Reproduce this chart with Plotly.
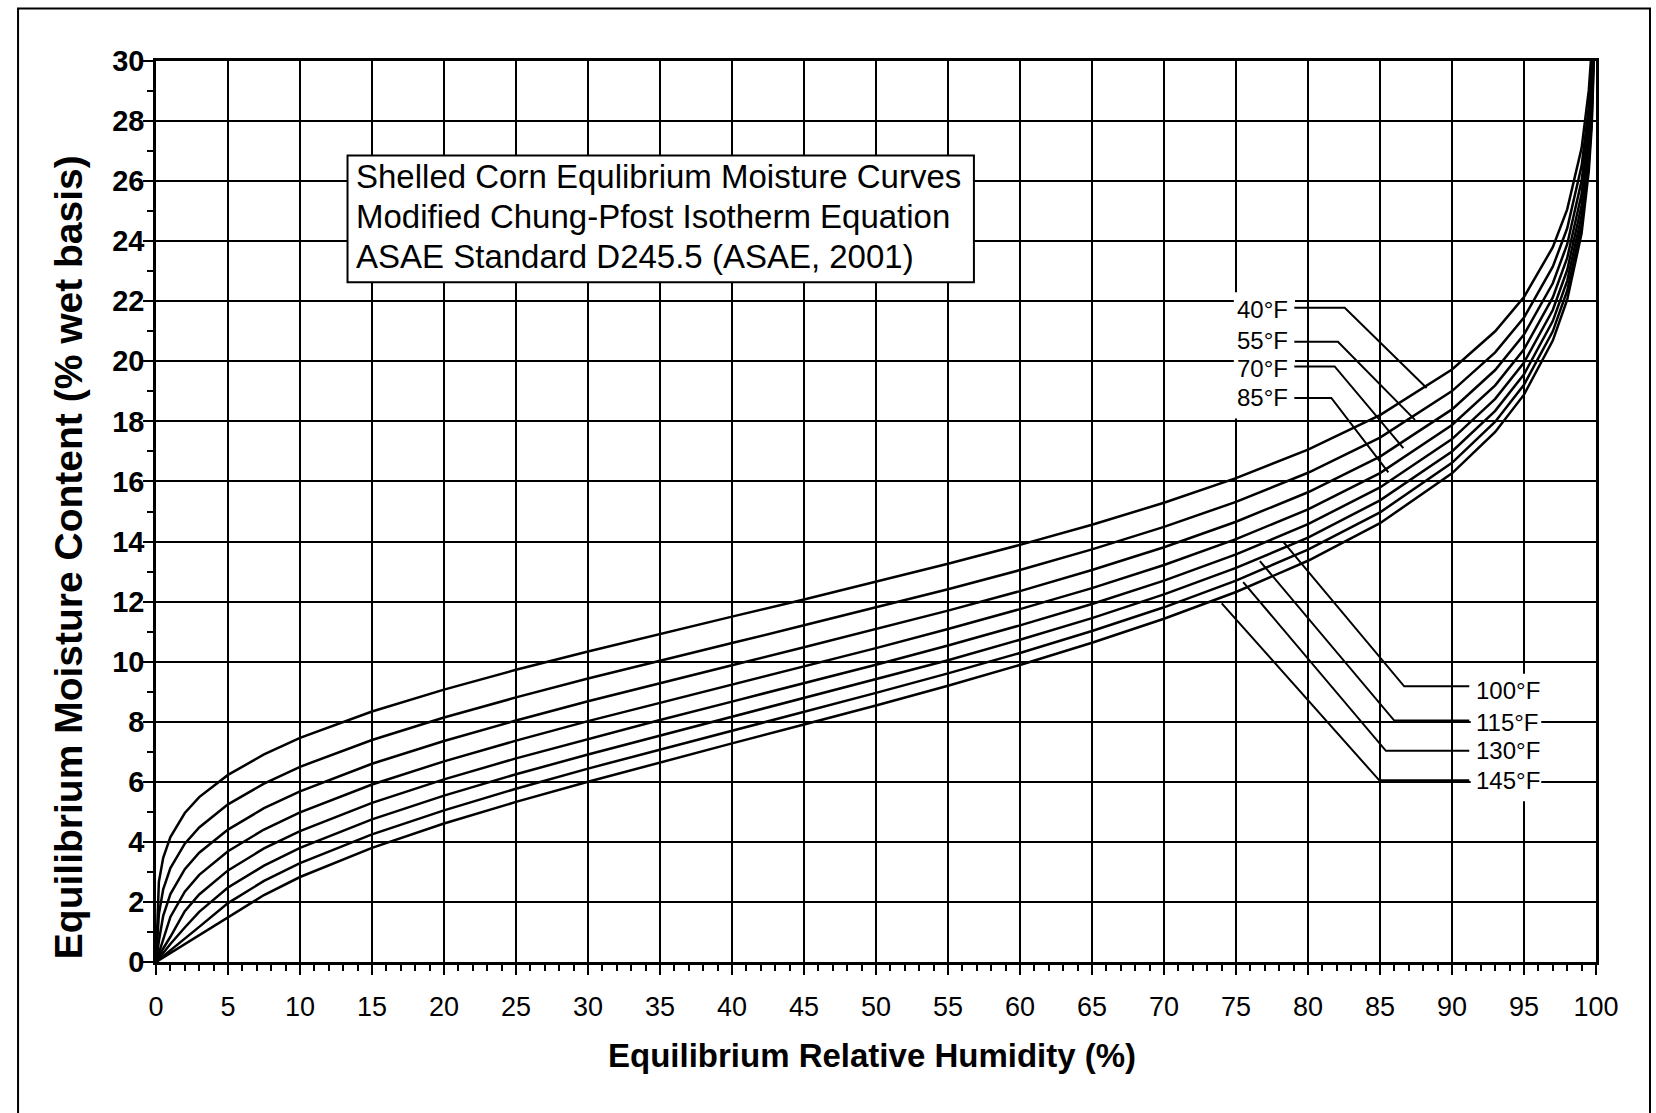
import plotly.graph_objects as go

# ---------------- data ----------------
RH = [0, 0.2, 0.5, 1, 2, 3, 5, 7.5, 10, 15, 20, 25, 30, 35, 40, 45, 50, 55, 60,
      65, 70, 75, 80, 85, 90, 93, 95, 97, 98, 99, 99.5, 99.7, 99.9]

MC_40F = [0, 2.67, 3.47, 4.16, 4.96, 5.49, 6.23, 6.91, 7.46, 8.34, 9.07, 9.73, 10.34,
          10.93, 11.50, 12.07, 12.66, 13.26, 13.89, 14.56, 15.29, 16.11, 17.06, 18.21,
          19.73, 21.00, 22.14, 23.80, 25.06, 27.10, 29.03, 30.39, 33.13]
MC_55F = [0, 1.60, 2.42, 3.13, 3.94, 4.48, 5.25, 5.94, 6.50, 7.39, 8.14, 8.81, 9.44,
          10.04, 10.62, 11.21, 11.80, 12.41, 13.05, 13.74, 14.49, 15.32, 16.29, 17.46,
          19.01, 20.30, 21.46, 23.15, 24.43, 26.51, 28.47, 29.84, 32.63]
MC_70F = [0, 0.70, 1.54, 2.26, 3.09, 3.64, 4.41, 5.12, 5.68, 6.60, 7.36, 8.04, 8.68,
          9.29, 9.88, 10.48, 11.08, 11.70, 12.35, 13.05, 13.81, 14.66, 15.64, 16.83,
          18.40, 19.71, 20.89, 22.60, 23.90, 26.01, 27.99, 29.39, 32.21]
MC_85F = [0, 0.30, 0.77, 1.50, 2.34, 2.90, 3.69, 4.41, 4.98, 5.91, 6.68, 7.37, 8.02,
          8.63, 9.24, 9.84, 10.45, 11.09, 11.75, 12.45, 13.22, 14.08, 15.07, 16.28,
          17.88, 19.20, 20.40, 22.13, 23.44, 25.57, 27.58, 28.99, 31.84]
MC_100F = [0, 0.18, 0.45, 0.84, 1.69, 2.25, 3.05, 3.78, 4.36, 5.30, 6.08, 6.78, 7.43,
           8.06, 8.67, 9.28, 9.90, 10.54, 11.21, 11.92, 12.70, 13.57, 14.58, 15.80,
           17.41, 18.75, 19.96, 21.71, 23.04, 25.19, 27.22, 28.65, 31.53]
MC_115F = [0, 0.12, 0.30, 0.60, 1.15, 1.67, 2.48, 3.21, 3.80, 4.75, 5.54, 6.25, 6.91,
           7.54, 8.16, 8.78, 9.41, 10.05, 10.73, 11.45, 12.24, 13.12, 14.13, 15.37,
           17.00, 18.35, 19.57, 21.34, 22.68, 24.85, 26.90, 28.34, 31.24]
MC_130F = [0, 0.08, 0.20, 0.40, 0.80, 1.17, 1.96, 2.70, 3.29, 4.25, 5.05, 5.77, 6.44,
           7.07, 7.70, 8.32, 8.96, 9.61, 10.29, 11.02, 11.81, 12.70, 13.73, 14.97,
           16.62, 17.99, 19.22, 21.00, 22.35, 24.54, 26.61, 28.05, 30.98]
MC_145F = [0, 0.06, 0.15, 0.30, 0.60, 0.90, 1.48, 2.23, 2.83, 3.80, 4.61, 5.33, 6.00,
           6.65, 7.28, 7.91, 8.54, 9.20, 9.89, 10.63, 11.43, 12.32, 13.36, 14.61,
           16.27, 17.65, 18.89, 20.69, 22.05, 24.26, 26.34, 27.80, 30.74]

SERIES_NAMES = ["40°F", "55°F", "70°F", "85°F", "100°F", "115°F", "130°F", "145°F"]
SERIES_VALUES = [MC_40F, MC_55F, MC_70F, MC_85F, MC_100F, MC_115F, MC_130F, MC_145F]

TITLE_LINES = ["Shelled Corn Equlibrium Moisture Curves",
               "Modified Chung-Pfost Isotherm Equation",
               "ASAE Standard D245.5 (ASAE, 2001)"]
TITLE_LINE_Y = [26.16, 24.83, 23.49]
TITLE_TEXT_X = 13.75
TITLE_BOX = (13.3, 22.63, 56.8, 26.85)

X_TITLE = "Equilibrium Relative Humidity (%)"
Y_TITLE = "Equilibrium Moisture Content (% wet basis)"

# curve labels with leader lines
UPPER_LABELS = ["40°F", "55°F", "70°F", "85°F"]
UPPER_LABEL_Y = [21.73, 20.71, 19.75, 18.78]
UPPER_TEXT_RIGHT_X = 78.75
UPPER_LEADER_START_X = 79.05
UPPER_BEND = [(82.55, 21.78), (82.08, 20.65), (81.85, 19.83), (81.62, 18.78)]
UPPER_TIP = [(88.24, 19.11), (87.43, 18.05), (86.62, 17.11), (85.58, 16.30)]
UPPER_BOX = (74.85, 18.1, 79.1, 22.3)

LOWER_LABELS = ["100°F", "115°F", "130°F", "145°F"]
LOWER_LABEL_Y = [9.04, 7.98, 7.03, 6.03]
LOWER_TEXT_LEFT_X = 91.5
LOWER_LEADER_END_X = 91.2
LOWER_TIP = [(78.27, 14.00), (76.66, 13.35), (75.50, 12.65), (74.01, 11.94)]
LOWER_BEND = [(86.68, 9.18), (85.99, 8.04), (85.41, 7.03), (84.95, 6.05)]
LOWER_BOX = (91.3, 5.35, 96.2, 9.6)

FONT = "Liberation Sans, Arial, Helvetica, sans-serif"

# ---------------- figure ----------------
fig = go.Figure()
for name, vals in zip(SERIES_NAMES, SERIES_VALUES):
    fig.add_trace(go.Scatter(x=RH, y=vals, mode="lines", name=name,
                             line=dict(color="black", width=2.5),
                             showlegend=False, hoverinfo="skip"))

shapes = []
# outer frame of the page
shapes.append(dict(type="rect", xref="paper", yref="paper",
                   x0=-0.0958, x1=1.0375, y0=-0.2, y1=1.0583,
                   line=dict(color="black", width=2), fillcolor="rgba(0,0,0,0)"))
# white backgrounds behind label groups
for bx in (UPPER_BOX, LOWER_BOX):
    shapes.append(dict(type="rect", xref="x", yref="y", x0=bx[0], y0=bx[1], x1=bx[2], y1=bx[3],
                       line=dict(width=0), fillcolor="white", layer="above"))
# title box
shapes.append(dict(type="rect", xref="x", yref="y",
                   x0=TITLE_BOX[0], y0=TITLE_BOX[1], x1=TITLE_BOX[2], y1=TITLE_BOX[3],
                   line=dict(color="black", width=2), fillcolor="white", layer="above"))
# leader lines
for (bx_, by_), (tx_, ty_) in zip(UPPER_BEND, UPPER_TIP):
    shapes.append(dict(type="path", xref="x", yref="y",
                       path=f"M {UPPER_LEADER_START_X},{by_} L {bx_},{by_} L {tx_},{ty_}",
                       line=dict(color="black", width=2), layer="above"))
for (bx_, by_), (tx_, ty_) in zip(LOWER_BEND, LOWER_TIP):
    shapes.append(dict(type="path", xref="x", yref="y",
                       path=f"M {LOWER_LEADER_END_X},{by_} L {bx_},{by_} L {tx_},{ty_}",
                       line=dict(color="black", width=2), layer="above"))

annotations = []
for txt, y in zip(TITLE_LINES, TITLE_LINE_Y):
    annotations.append(dict(x=TITLE_TEXT_X, y=y, xref="x", yref="y", text=txt,
                            showarrow=False, xanchor="left", yanchor="middle",
                            font=dict(family=FONT, size=33, color="black")))
for txt, y in zip(UPPER_LABELS, UPPER_LABEL_Y):
    annotations.append(dict(x=UPPER_TEXT_RIGHT_X, y=y, xref="x", yref="y", text=txt,
                            showarrow=False, xanchor="right", yanchor="middle",
                            font=dict(family=FONT, size=24, color="black")))
for txt, y in zip(LOWER_LABELS, LOWER_LABEL_Y):
    annotations.append(dict(x=LOWER_TEXT_LEFT_X, y=y, xref="x", yref="y", text=txt,
                            showarrow=False, xanchor="left", yanchor="middle",
                            font=dict(family=FONT, size=24, color="black")))
annotations.append(dict(x=0.497, y=-0.1043, xref="paper", yref="paper", text=X_TITLE,
                        showarrow=False, xanchor="center", yanchor="middle",
                        font=dict(family=FONT, size=33, color="black", weight="bold")))
annotations.append(dict(x=-0.061, y=0.4495, xref="paper", yref="paper", text=Y_TITLE,
                        showarrow=False, xanchor="center", yanchor="middle", textangle=-90,
                        font=dict(family=FONT, size=39, color="black", weight="bold")))

axis_common = dict(ticks="outside", ticklen=10, tickwidth=2, tickcolor="black",
                   showgrid=True, gridcolor="black", gridwidth=2.2,
                   showline=True, linecolor="black", linewidth=2.5, mirror=True,
                   zeroline=False, automargin=False, fixedrange=True)

fig.update_layout(
    width=1656, height=1113,
    margin=dict(l=156, r=60, t=61, b=151),
    paper_bgcolor="white", plot_bgcolor="white",
    xaxis=dict(range=[0, 100], tickmode="linear", tick0=0, dtick=5,
               tickfont=dict(family=FONT, size=27, color="black"),
               ticklabelstandoff=9,
               minor=dict(dtick=1, ticks="outside", ticklen=6, tickwidth=1.5,
                          tickcolor="black", showgrid=False),
               **axis_common),
    yaxis=dict(range=[0, 30], tickmode="linear", tick0=0, dtick=2,
               tickfont=dict(family=FONT, size=29, color="black", weight="bold"),
               ticklabelstandoff=-7,
               minor=dict(dtick=1, ticks="outside", ticklen=6, tickwidth=1.5,
                          tickcolor="black", showgrid=False),
               **axis_common),
    shapes=shapes,
    annotations=annotations,
    showlegend=False,
)

fig.write_html("out.html", config={"displayModeBar": False},
               post_script="document.body.style.margin='0px';document.body.style.overflow='hidden';")
